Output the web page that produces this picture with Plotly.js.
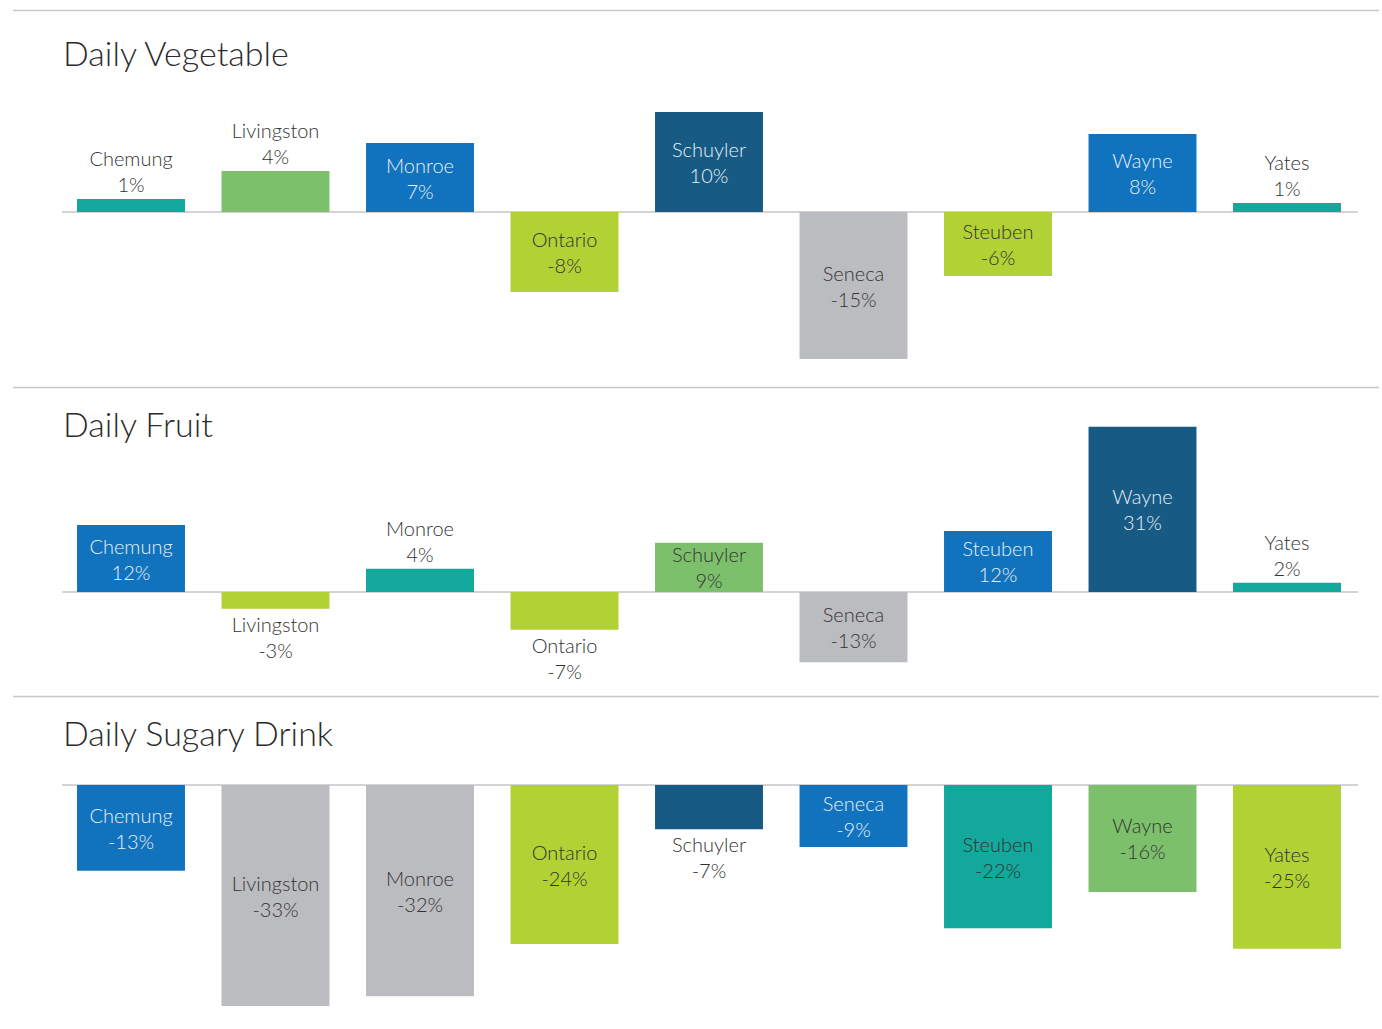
<!DOCTYPE html>
<html>
<head>
<meta charset="utf-8">
<script src="https://cdn.plot.ly/plotly-3.0.1.min.js"></script>
<style>html,body{margin:0;padding:0;background:#fff;}#chart{width:1382px;height:1029px;}</style>
</head>
<body>
<div id="chart"></div>
<script>
// ---- DATA ----
const counties = ["Chemung","Livingston","Monroe","Ontario","Schuyler","Seneca","Steuben","Wayne","Yates"];

const vegValues   = [1.3, 4.1, 6.9, -8.0, 10.0, -14.7, -6.4, 7.8, 0.9];
const vegLabels   = [1, 4, 7, -8, 10, -15, -6, 8, 1];
const vegColors   = ["teal","green","blue","lime","dark","gray","lime","blue","teal"];

const fruitValues = [12.4, -3.1, 4.3, -7.0, 9.1, -13.0, 11.3, 30.6, 1.7];
const fruitLabels = [12, -3, 4, -7, 9, -13, 12, 31, 2];
const fruitColors = ["blue","lime","teal","lime","green","gray","blue","dark","teal"];

const sugarValues = [-13.0, -33.5, -32.0, -24.1, -6.7, -9.4, -21.7, -16.2, -24.8];
const sugarLabels = [-13, -33, -32, -24, -7, -9, -22, -16, -25];
const sugarColors = ["blue","gray","gray","lime","dark","blue","teal","green","lime"];

const panelTitles = ["Daily Vegetable","Daily Fruit","Daily Sugary Drink"];

// ---- STYLE ----
const W = 1382, H = 1029;
const palette = {dark:"#175a84", blue:"#1173bd", teal:"#12a89b", green:"#7dc06c", lime:"#b1d135", gray:"#bbbcc0"};
const lightText = "#e9eff6", darkText = "#333333";
const FONT = "Lato, 'Noto Sans', sans-serif";
const py = y => 1 - y / H;
const px = x => x / W;

const panels = [
  {top: 90,  bottom: 380,  base: 212, scale: 10.0, values: vegValues,   labels: vegLabels,   colors: vegColors,   titleY: 52},
  {top: 400, bottom: 690,  base: 592, scale: 5.4,  values: fruitValues, labels: fruitLabels, colors: fruitColors, titleY: 424},
  {top: 755, bottom: 1025, base: 785, scale: 6.6,  values: sugarValues, labels: sugarLabels, colors: sugarColors, titleY: 732}
];

const traces = [];
const layout = {
  width: W, height: H,
  margin: {l: 0, r: 0, t: 0, b: 0},
  paper_bgcolor: "#fff", plot_bgcolor: "rgba(0,0,0,0)",
  showlegend: false,
  bargap: 0.253,
  font: {family: FONT, size: 20, color: darkText, weight: 300},
  shapes: [], annotations: []
};

const xDom = [px(58.75), px(1359.25)];

panels.forEach((p, i) => {
  const n = i === 0 ? "" : String(i + 1);
  const xa = "x" + n, ya = "y" + n;
  const barColors = p.colors.map(c => palette[c]);
  const textColors = p.colors.map(c => (c === "dark" || c === "blue") ? lightText : darkText);
  const positions = p.values.map(v => Math.abs(v) * p.scale > 46 ? "inside" : "outside");
  const outsideColors = p.colors.map((c, k) => positions[k] === "outside" ? darkText : textColors[k]);
  traces.push({
    type: "bar",
    x: counties,
    y: p.values,
    xaxis: xa, yaxis: ya,
    marker: {color: barColors, line: {width: 0}},
    text: counties.map((c, k) => c + "<br>" + p.labels[k] + "%"),
    textposition: positions,
    insidetextanchor: "middle",
    constraintext: "none",
    cliponaxis: false,
    textfont: {family: FONT, size: 20, color: outsideColors, weight: 300},
    insidetextfont: {family: FONT, size: 20, color: textColors, weight: 300},
    outsidetextfont: {family: FONT, size: 20, color: darkText, weight: 300},
    hoverinfo: "skip"
  });
  const topVal = (p.base - p.top) / p.scale;
  const botVal = -(p.bottom - p.base) / p.scale;
  layout["xaxis" + n] = {domain: xDom, anchor: ya, visible: false, fixedrange: true};
  layout["yaxis" + n] = {domain: [py(p.bottom), py(p.top)], anchor: xa, range: [botVal, topVal],
                         visible: false, fixedrange: true};
  layout.shapes.push({type: "line", xref: "paper", yref: ya, x0: px(62), x1: px(1358), y0: 0, y1: 0,
                      line: {color: "#c6c6ca", width: 1.5}, layer: "below"});
  layout.annotations.push({text: panelTitles[i], xref: "paper", yref: "paper", x: px(61), y: py(p.titleY),
                           xanchor: "left", yanchor: "middle", showarrow: false,
                           font: {family: FONT, size: 34, color: "#2b2b2b", weight: 300}});
});

[10.5, 387.5, 696.5].forEach(y => {
  layout.shapes.push({type: "line", xref: "paper", yref: "paper", x0: px(13), x1: px(1379), y0: py(y), y1: py(y),
                      line: {color: "#c8c8c8", width: 1.5}});
});

Plotly.newPlot("chart", traces, layout, {displayModeBar: false, staticPlot: true});
</script>
</body>
</html>
